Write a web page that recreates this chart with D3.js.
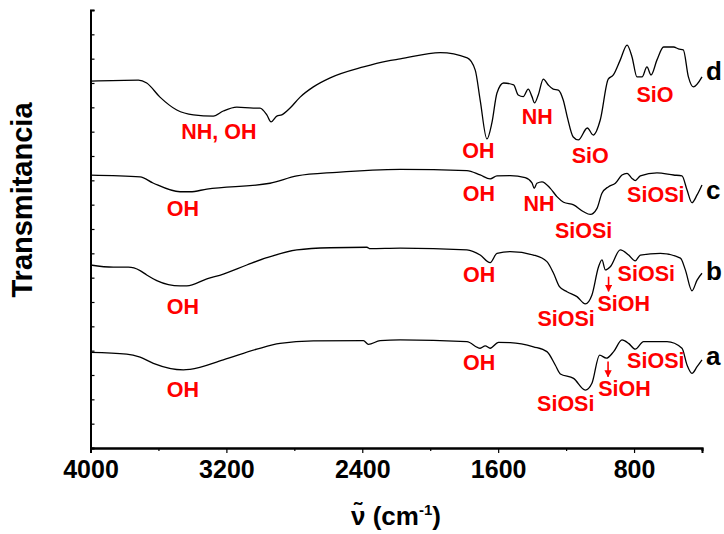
<!DOCTYPE html>
<html>
<head>
<meta charset="utf-8">
<script src="https://cdn.jsdelivr.net/npm/d3@7"></script>
<style>
  body { margin: 0; background: #fff; }
  svg { font-family: "Liberation Sans", Arial, sans-serif; font-weight: bold; }
</style>
</head>
<body>
<div id="chart"></div>
<script>
// spectra: [wavenumber (cm-1), transmittance (a.u., offset)]
var specA = [[4000,3.93],[3787,3.86],[3708,3.73],[3630,3.48],[3453,3.21],[3414,3.23],[3218,3.62],
  [3021,4.06],[2884,4.30],[2688,4.40],[2393,4.41],[2364,4.26],[2295,4.41],[2177,4.44],[1784,4.37],
  [1706,4.10],[1676,4.20],[1647,4.10],[1598,4.34],[1529,4.33],[1392,4.16],[1313,3.96],[1264,3.41],
  [1234,3.04],[1156,2.86],[1087,2.38],[1048,2.66],[1003,3.82],[963,3.69],[920,3.96],[871,4.44],
  [832,4.30],[793,4.06],[744,4.37],[606,4.37],[518,4.10],[488,3.41],[459,3.07],[429,3.34],[400,3.62]];

var specB = [[4000,7.52],[3866,7.43],[3777,7.43],[3708,7.29],[3669,7.11],[3610,6.88],[3473,6.66],
  [3433,6.66],[3315,6.95],[3218,7.15],[3080,7.52],[2962,7.82],[2785,8.14],[2589,8.23],[2373,8.25],
  [2354,8.19],[2177,8.21],[1784,8.14],[1706,7.93],[1647,7.62],[1607,8.00],[1529,8.07],[1392,7.93],
  [1313,7.66],[1274,7.18],[1239,6.63],[1195,6.42],[1136,6.22],[1087,5.92],[1048,6.29],[1009,7.45],
  [989,7.73],[969,7.32],[940,7.45],[881,8.14],[832,7.93],[793,7.69],[763,7.93],[645,8.00],
  [527,7.80],[498,7.32],[459,6.46],[429,6.90],[400,7.18]];

var specC = [[4000,11.21],[3708,11.14],[3632,10.89],[3473,10.53],[3414,10.53],[3315,10.64],
  [2943,10.88],[2785,11.18],[2550,11.33],[2177,11.45],[1784,11.40],[1706,11.22],[1647,11.06],
  [1607,11.18],[1529,11.19],[1441,11.11],[1401,10.90],[1388,10.67],[1372,10.88],[1342,10.94],
  [1293,10.67],[1254,10.33],[1215,10.10],[1156,9.99],[1097,9.71],[1058,9.60],[1018,9.85],
  [989,10.47],[950,10.74],[910,10.88],[871,11.22],[841,11.29],[812,11.08],[793,10.99],[763,11.18],
  [665,11.31],[567,11.22],[518,11.18],[488,10.60],[459,10.08],[429,10.40],[400,10.81]];

var specD = [[4000,15.08],[3718,15.12],[3669,15.00],[3591,14.42],[3492,13.89],[3394,13.69],
  [3277,13.64],[3218,13.85],[3139,14.01],[3041,13.97],[3002,13.97],[2962,13.69],[2937,13.40],
  [2903,13.64],[2874,13.69],[2825,13.97],[2766,14.42],[2688,14.84],[2589,15.21],[2393,15.66],
  [2255,15.90],[2177,15.99],[1941,16.25],[1782,16.03],[1735,15.53],[1706,14.30],[1666,12.70],
  [1637,13.36],[1607,14.59],[1568,15.00],[1509,14.92],[1482,14.51],[1452,14.44],[1423,14.75],
  [1401,14.44],[1386,14.18],[1364,14.51],[1334,15.16],[1305,14.92],[1276,14.75],[1246,14.71],
  [1217,14.30],[1193,13.60],[1158,12.78],[1128,12.66],[1075,13.15],[1040,12.86],[999,13.48],
  [952,15.16],[922,15.33],[881,15.95],[841,16.56],[812,16.07],[783,15.25],[753,15.25],[724,15.66],
  [700,15.33],[665,15.95],[626,16.48],[567,16.48],[539,16.40],[510,16.36],[480,15.25],[451,14.84],
  [400,15.25]];

var spectra = [specA, specB, specC, specD];
var spectraNames = ["a", "b", "c", "d"];
var nameValues = [3.41, 6.90, 10.22, 15.12];   // letter baselines

var majorTicks = [4000, 3200, 2400, 1600, 800];
var minorTicks = [3600, 2800, 2000, 1200, 400];

// band assignments: [label, wavenumber, transmittance]
var bands = [
  ["NH, OH", 3244, 12.70], ["OH", 1717, 11.91], ["NH", 1370, 13.30], ["SiO", 1058, 11.73], ["SiO", 677, 14.23],
  ["OH", 3456, 9.53], ["OH", 1713, 10.16], ["NH", 1360, 9.75], ["SiOSi", 1097, 8.62], ["SiOSi", 672, 10.12],
  ["OH", 3456, 5.51], ["OH", 1712, 6.83], ["SiOSi", 1200, 5.01], ["SiOSi", 728, 6.88], ["SiOH", 861, 5.63],
  ["OH", 3456, 2.11], ["OH", 1712, 3.21], ["SiOSi", 1202, 1.53], ["SiOSi", 672, 3.30], ["SiOH", 856, 2.14]
];
// arrows: [wavenumber, from, to]
var arrows = [[950, 7.04, 6.44], [953, 3.55, 2.93]];

var W = 724, H = 534;
var margin = {top: 10, right: 22, bottom: 86, left: 90.5};
var width = W - margin.left - margin.right,
    height = H - margin.top - margin.bottom;

var svg = d3.select("#chart").append("svg")
  .attr("width", W)
  .attr("height", H);

svg.append("defs").append("marker")
  .attr("id", "head")
  .attr("viewBox", "0 0 10 10")
  .attr("refX", 9).attr("refY", 5)
  .attr("markerWidth", 4.5).attr("markerHeight", 4.5)
  .attr("orient", "auto")
  .append("path")
  .attr("d", "M0,0 L10,5 L0,10 Z")
  .attr("fill", "red");

var g = svg.append("g")
  .attr("transform", "translate(" + margin.left + "," + margin.top + ")");

var x = d3.scaleLinear().domain([4000, 400]).range([0, width]);
var y = d3.scaleLinear().domain([0, 18]).range([height, 0]);

var line = d3.line()
  .x(function(d) { return x(d[0]); })
  .y(function(d) { return y(d[1]); })
  .curve(d3.curveMonotoneX);

g.selectAll(".spec")
  .data(spectra)
  .enter().append("path")
  .attr("class", "spec")
  .attr("d", line)
  .attr("fill", "none")
  .attr("stroke", "#000")
  .attr("stroke-width", 1.3);

// axes
var xAxis = g.append("g")
  .attr("transform", "translate(0," + height + ")")
  .call(d3.axisBottom(x).tickValues(majorTicks).tickSize(5).tickFormat(d3.format("d")));
xAxis.selectAll("text")
  .attr("y", 12)
  .style("font-size", "25px")
  .style("font-weight", "bold")
  .style("font-family", "'Liberation Sans', Arial, sans-serif");

g.append("g")
  .attr("transform", "translate(0," + height + ")")
  .call(d3.axisBottom(x).tickValues(minorTicks).tickSize(3).tickFormat(""));

g.append("g")
  .call(d3.axisLeft(y).tickValues(d3.range(0, 19)).tickSize(-4).tickFormat(""));

g.selectAll(".domain").attr("stroke-width", 2).attr("stroke", "#000");
g.selectAll(".tick line").attr("stroke-width", 1.2);

// band labels
g.selectAll(".band")
  .data(bands)
  .enter().append("text")
  .attr("class", "band")
  .attr("x", function(d) { return x(d[1]); })
  .attr("y", function(d) { return y(d[2]); })
  .attr("text-anchor", "middle")
  .attr("fill", "red")
  .style("font-size", "21.5px")
  .text(function(d) { return d[0]; });

g.selectAll(".arrow")
  .data(arrows)
  .enter().append("line")
  .attr("class", "arrow")
  .attr("x1", function(d) { return x(d[0]); })
  .attr("x2", function(d) { return x(d[0]); })
  .attr("y1", function(d) { return y(d[1]); })
  .attr("y2", function(d) { return y(d[2]); })
  .attr("stroke", "red")
  .attr("stroke-width", 1.6)
  .attr("marker-end", "url(#head)");

// spectrum letters
g.selectAll(".name")
  .data(spectraNames)
  .enter().append("text")
  .attr("class", "name")
  .attr("x", width + 4)
  .attr("y", function(d, i) { return y(nameValues[i]); })
  .style("font-size", "26px")
  .text(function(d) { return d; });

// axis titles
svg.append("text")
  .attr("transform", "rotate(-90)")
  .attr("x", -200)
  .attr("y", 32)
  .attr("text-anchor", "middle")
  .style("font-size", "29px")
  .text("Transmitancia");

var xt = svg.append("text")
  .attr("x", 396)
  .attr("y", 525)
  .attr("text-anchor", "middle")
  .style("font-size", "26px");
xt.append("tspan").text("ν\u0303 (cm");
xt.append("tspan").attr("dy", -10).style("font-size", "15px").text("-1");
xt.append("tspan").attr("dy", 10).text(")");
</script>
</body>
</html>
